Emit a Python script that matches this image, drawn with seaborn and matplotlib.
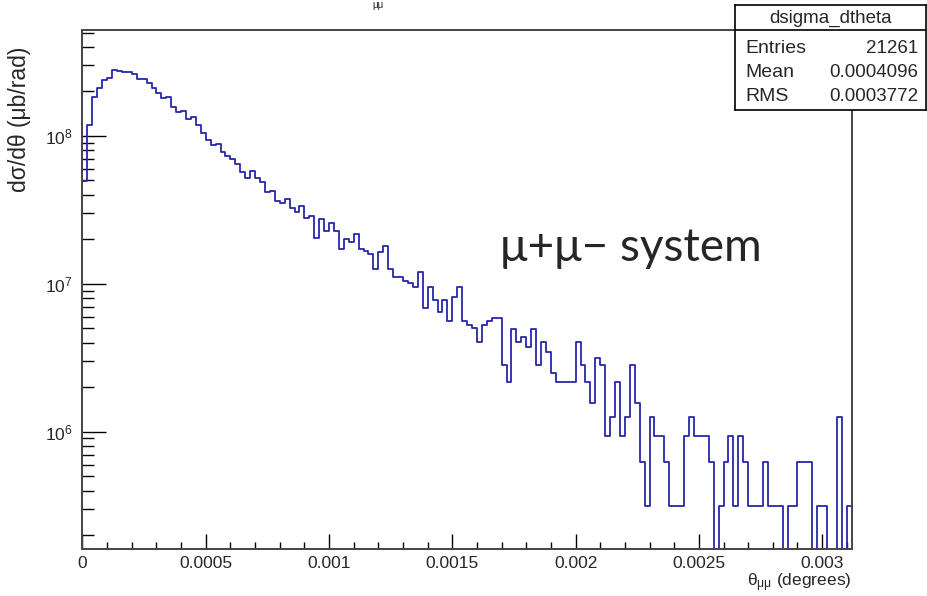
import numpy as np
import pandas as pd
import matplotlib
matplotlib.use("Agg")
import matplotlib.pyplot as plt
import seaborn as sns
from matplotlib.ticker import FixedLocator, NullFormatter

# histogram: 156 bins of 2e-5 degrees from 0 to 0.00312
bin_width = 2e-5
n_bins = 156

# dsigma/dtheta per bin, in units of 1e6 ub/rad
dsigma_1e6 = [
    49.6, 118.7, 182.7, 212.2, 239.2, 248.0, 280.8, 276.5, 272.2, 272.2,
    262.6, 243.0, 243.0, 227.2, 210.2, 196.3, 179.9, 183.5, 157.8, 144.7,
    147.6, 130.3, 135.1, 118.7, 104.3, 94.0, 86.9, 88.3, 77.6, 73.2,
    70.1, 64.3, 57.3, 51.7, 58.2, 51.7, 48.6, 41.6, 42.5, 36.5,
    35.4, 37.3, 32.7, 30.8, 33.6, 27.8, 28.8, 20.5, 27.5, 22.9,
    25.9, 22.9, 17.2, 20.0, 19.3, 21.7, 17.2, 16.8, 15.85, 12.54,
    16.5, 18.0, 12.54, 11.18, 11.18, 10.5, 10.18, 9.56, 11.97, 6.83,
    9.56, 7.78, 6.48, 7.78, 5.61, 8.19, 9.48, 5.61, 5.27, 5.00,
    4.06, 5.27, 5.63, 5.90, 5.90, 2.83, 2.18, 4.95, 4.06, 4.35,
    3.76, 4.95, 2.83, 4.06, 3.44, 2.51, 2.18, 2.18, 2.18, 2.18,
    4.06, 2.83, 2.18, 1.556, 3.14, 2.83, 0.94, 1.25, 2.18, 0.94,
    1.25, 2.83, 1.556, 0.627, 0.313, 1.25, 0.94, 0.94, 0.627, 0.313,
    0.313, 0.313, 0.94, 1.25, 0.94, 0.94, 0.94, 0.627, 0.0, 0.313,
    0.627, 0.94, 0.313, 0.94, 0.627, 0.313, 0.313, 0.313, 0.627, 0.313,
    0.313, 0.313, 0.0, 0.313, 0.313, 0.627, 0.627, 0.627, 0.0, 0.313,
    0.313, 0.0, 0.0, 1.25, 0.0, 0.313,
]

x_ticks = [0, 0.0005, 0.001, 0.0015, 0.002, 0.0025, 0.003]
x_tick_labels = ["0", "0.0005", "0.001", "0.0015", "0.002", "0.0025", "0.003"]
y_ticks = [1e6, 1e7, 1e8]
y_tick_labels = [r"$10^{6}$", r"$10^{7}$", r"$10^{8}$"]

stats_title = "dsigma_dtheta"
stats_names = ["Entries", "Mean", "RMS"]
stats_values = ["21261", "0.0004096", "0.0003772"]

edges = [i * bin_width for i in range(n_bins + 1)]
df = pd.DataFrame({
    "theta": [e + bin_width / 2 for e in edges[:-1]],
    "w": [v * 1e6 for v in dsigma_1e6],
})

sns.set_style("white")
plt.rcParams["font.family"] = ["Liberation Sans", "DejaVu Sans"]
plt.rcParams["mathtext.fontset"] = "custom"
plt.rcParams["mathtext.rm"] = "Liberation Sans"
plt.rcParams["mathtext.it"] = "Liberation Sans"

W, H = 928, 596
fig = plt.figure(figsize=(W / 100, H / 100), dpi=100)
x0, x1, y0, y1 = 82.5, 851.7, 29.5, 549
ax = fig.add_axes([x0 / W, 1 - y1 / H, (x1 - x0) / W, (y1 - y0) / H])

sns.histplot(data=df, x="theta", weights="w", bins=edges, element="step", fill=False,
             color="#2626aa", linewidth=1.3, ax=ax)
ax.set_yscale("log")
ax.set_xlim(0, n_bins * bin_width)
ax.set_ylim(1.61e5, 5.25e8)

ax.set_xticks(x_ticks)
ax.set_xticklabels(x_tick_labels)
ax.xaxis.set_minor_locator(FixedLocator(np.arange(0, 0.00312, 0.0001)))
ax.set_yticks(y_ticks)
ax.set_yticklabels(y_tick_labels)
minor_y = [m * 10 ** e for e in range(5, 9) for m in range(2, 10)]
ax.yaxis.set_minor_locator(FixedLocator(minor_y))
ax.yaxis.set_minor_formatter(NullFormatter())

ax.tick_params(axis="both", which="both", bottom=True, left=True, top=False, right=False)
ax.tick_params(axis="x", which="major", direction="in", length=10.8, width=1,
               color="black", labelsize=12.5, pad=5)
ax.tick_params(axis="x", which="minor", direction="in", length=5, width=1, color="black")
ax.tick_params(axis="y", which="major", direction="in", length=17, width=1,
               color="black", labelsize=12.5, pad=7)
ax.tick_params(axis="y", which="minor", direction="in", length=8.6, width=1, color="black")

for side, sp in ax.spines.items():
    sp.set_visible(True)
    sp.set_color("#444444")
    sp.set_linewidth(1.4)

ax.set_ylabel("")
ax.set_xlabel("\u03b8$_{\u03bc\u03bc}$ (degrees)", fontsize=12.5, ha="right", va="center")
ax.xaxis.set_label_coords(1.0, -(583 - y1) / (y1 - y0))

fig.text(20 / W, 1 - 47 / H, "d\u03c3/d\u03b8 (\u03bcb/rad)", rotation=90,
         rotation_mode="anchor", ha="right", va="center", fontsize=16.5)

# cut-off title fragment at the very top
fig.text(378 / W, 1 - 5 / H, "\u03bc\u03bc", fontsize=7, ha="center", va="center")

# overlay annotation
fig.text(500 / W, 1 - 261 / H, "\u03bc+\u03bc\u2212 system", fontsize=33,
         family=["Lato", "DejaVu Sans"], ha="left", va="baseline")

# stats box
bx0, bx1, by0, by1 = 735.5, 926, 5, 109.5
box = fig.add_axes([bx0 / W, 1 - by1 / H, (bx1 - bx0) / W, (by1 - by0) / H])
box.set_xlim(bx0, bx1)
box.set_ylim(by1, by0)
box.set_xticks([])
box.set_yticks([])
box.set_facecolor("white")
for sp in box.spines.values():
    sp.set_color("black")
    sp.set_linewidth(1.2)
box.axhline(29.5, color="black", linewidth=1.2)
box.text((bx0 + bx1) / 2, 18.5, stats_title, ha="center", va="center", fontsize=13.5)
for i, (name, val) in enumerate(zip(stats_names, stats_values)):
    yy = 48.5 + i * 24.1
    box.text(745, yy, name, ha="left", va="center", fontsize=14)
    box.text(918, yy, val, ha="right", va="center", fontsize=13.5)

fig.savefig("out.png", dpi=100)
